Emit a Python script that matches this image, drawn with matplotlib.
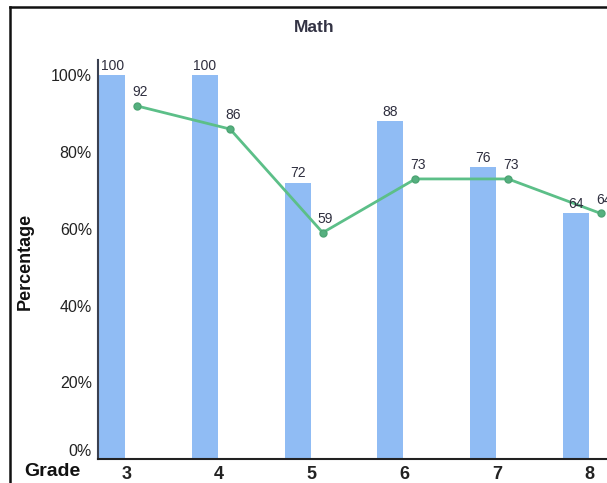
import matplotlib
matplotlib.use("Agg")
import matplotlib.pyplot as plt
from matplotlib.lines import Line2D
import numpy as np

plt.rcParams['font.family'] = ['Liberation Sans', 'DejaVu Sans']

grades = ['3', '4', '5', '6', '7', '8']
bar_values = [100, 100, 72, 88, 76, 64]
line_values = [92, 86, 59, 73, 73, 64]
yticks = [0, 20, 40, 60, 80, 100]
ytick_labels = ['0%', '20%', '40%', '60%', '80%', '100%']

W, H = 607, 483
fig = plt.figure(figsize=(W / 100, H / 100), dpi=100)

# axes geometry in pixels
x_left_px, x_right_px = 97.5, 636
y_bottom_px, y_top_px = 459, 60
ax = fig.add_axes([x_left_px / W, 1 - y_bottom_px / H,
                   (x_right_px - x_left_px) / W, (y_bottom_px - y_top_px) / H])

x = np.arange(len(grades))
bar_off, bar_w, line_off = -0.15, 0.28, 0.12
bar_color = '#90bcf4'
line_color = '#5cbf88'

ax.bar(x + bar_off, bar_values, width=bar_w, color=bar_color, zorder=2)
ax.plot(x + line_off, line_values, color=line_color, lw=2, marker='o',
        markersize=5, markerfacecolor='#55b07f', markeredgecolor='#4da574', zorder=3)

for xi, v in zip(x, bar_values):
    ax.annotate(str(v), (xi + bar_off, v), xytext=(0, 2), textcoords='offset points',
                ha='center', va='bottom', fontsize=10, color='#2e2e3e', zorder=4)
for xi, v in zip(x, line_values):
    ax.annotate(str(v), (xi + line_off, v), xytext=(2, 5), textcoords='offset points',
                ha='center', va='bottom', fontsize=10, color='#2e2e3e', zorder=4)

ax.set_xlim(-0.31, 5.5)
ax.set_ylim(0, 104)
ax.set_xticks(x)
ax.set_xticklabels(grades, fontsize=13, fontweight='bold', color='#222222')
ax.set_yticks(yticks)
ax.set_yticklabels(ytick_labels, fontsize=11.5, color='#222222')
ax.tick_params(axis='both', length=0)
ax.tick_params(axis='y', pad=4)
ax.tick_params(axis='x', pad=5)
ax.get_yticklabels()[0].set_va('bottom')

for s in ['top', 'right']:
    ax.spines[s].set_visible(False)
ax.spines['left'].set_color('#3a4050')
ax.spines['left'].set_linewidth(1.5)
ax.spines['bottom'].set_color('#222222')
ax.spines['bottom'].set_linewidth(1.5)

fig.text(314 / W, 1 - 28 / H, 'Math', ha='center', va='center',
         fontsize=12.5, fontweight='bold', color='#333344')
fig.text(25 / W, 1 - 261 / H, 'Percentage', ha='center', va='center', rotation=90,
         fontsize=13, fontweight='bold', color='#111111')
fig.text(52 / W, 1 - 471 / H, 'Grade', ha='center', va='center',
         fontsize=14, fontweight='bold', color='#111111')

# outer frame
fig.add_artist(Line2D([9.5 / W, 9.5 / W], [0, 1 - 6.5 / H], color='#111111', lw=1.8,
                      transform=fig.transFigure))
fig.add_artist(Line2D([9.5 / W, 1], [1 - 6.5 / H, 1 - 6.5 / H], color='#111111', lw=1.8,
                      transform=fig.transFigure))

fig.savefig('out.png', dpi=100)
